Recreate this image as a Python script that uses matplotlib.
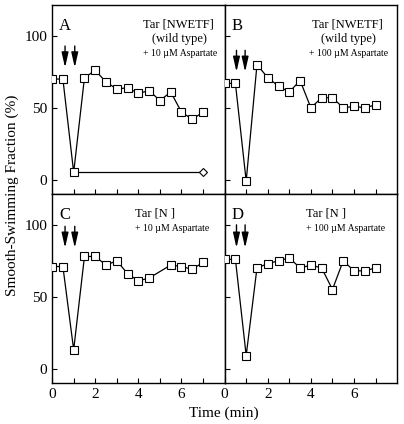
import numpy as np
import matplotlib
matplotlib.use('Agg')
import matplotlib.pyplot as plt

plt.rcParams['font.family'] = ['Liberation Serif', 'DejaVu Serif']

# Dati (tempo in min, frazione in %)
time_a = [0, 0.5, 1, 1.5, 2, 2.5, 3, 3.5, 4, 4.5, 5, 5.5, 6, 6.5, 7]
frac_a = [70, 70, 5, 71, 76, 68, 63, 64, 60, 62, 55, 61, 47, 42, 47]
ctrl_time_a = [1, 7]
ctrl_frac_a = [5, 5]

time_b = [0, 0.5, 1, 1.5, 2, 2.5, 3, 3.5, 4, 4.5, 5, 5.5, 6, 6.5, 7]
frac_b = [67, 67, -1, 80, 71, 65, 61, 69, 50, 57, 57, 50, 51, 50, 52]

time_c = [0, 0.5, 1, 1.5, 2, 2.5, 3, 3.5, 4, 4.5, 5.5, 6, 6.5, 7]
frac_c = [71, 71, 13, 78, 78, 72, 75, 66, 61, 63, 72, 71, 69, 74]

time_d = [0, 0.5, 1, 1.5, 2, 2.5, 3, 3.5, 4, 4.5, 5, 5.5, 6, 6.5, 7]
frac_d = [76, 76, 9, 70, 73, 75, 77, 70, 72, 70, 55, 75, 68, 68, 70]

panel_letters = ['A', 'B', 'C', 'D']
receptors = ['Tar [NWETF]', 'Tar [NWETF]', 'Tar [N ]', 'Tar [N ]']
strains = ['(wild type)', '(wild type)', None, None]
doses = ['+ 10 \u00b5M Aspartate', '+ 100 \u00b5M Aspartate',
         '+ 10 \u00b5M Aspartate', '+ 100 \u00b5M Aspartate']
arrow_x = [[0.6, 1.05], [0.55, 0.95], [0.6, 1.05], [0.55, 0.95]]
arrow_top = [93, 90, 99, 100]
arrow_bot = [78, 75, 84, 84]

fig, axes = plt.subplots(2, 2, figsize=(4.04, 4.24), dpi=100)
plt.subplots_adjust(left=0.129, right=0.983, top=0.988, bottom=0.097,
                    wspace=0, hspace=0)
axs = axes.flatten()

series = [(time_a, frac_a), (time_b, frac_b), (time_c, frac_c), (time_d, frac_d)]

for i, ax in enumerate(axs):
    t, f = series[i]
    ax.plot(t, f, color='black', lw=0.9, marker='s', ms=5.3,
            mfc='white', mec='black', mew=0.8, zorder=3)
    if i == 0:
        ax.plot(ctrl_time_a, ctrl_frac_a, color='black', lw=0.9, zorder=2)
        ax.plot([ctrl_time_a[1]], [ctrl_frac_a[1]], marker='D', ms=4.5,
                mfc='white', mec='black', mew=0.8, zorder=3)
    for xa in arrow_x[i]:
        ax.annotate('', xy=(xa, arrow_bot[i]), xytext=(xa, arrow_top[i]),
                    arrowprops=dict(arrowstyle='-|>,head_length=0.75,head_width=0.17',
                                    color='black', lw=1, mutation_scale=12,
                                    shrinkA=0, shrinkB=0))
    ax.set_xlim(0, 8)
    ax.set_ylim(-10, 121.5)
    ax.set_xticks([0, 2, 4, 6])
    ax.set_xticks([1, 3, 5, 7], minor=True)
    ax.set_yticks([0, 50, 100])
    ax.tick_params(which='both', direction='in', length=3.5, width=0.8,
                   labelsize=11)
    if i in (1, 3):
        ax.tick_params(axis='y', labelleft=False)
    if i in (0, 1):
        ax.tick_params(axis='x', labelbottom=False)
    for sp in ax.spines.values():
        sp.set_linewidth(1)

    ax.text(0.04, 0.93, panel_letters[i], transform=ax.transAxes,
            fontsize=12, va='top', ha='left')
    if strains[i] is not None:
        cx = 0.73 if i == 0 else 0.71
        ax.text(cx, 0.93, receptors[i], transform=ax.transAxes,
                fontsize=9, va='top', ha='center')
        ax.text(cx + 0.01, 0.85, strains[i], transform=ax.transAxes,
                fontsize=9, va='top', ha='center')
        ax.text(cx + 0.01, 0.77, doses[i], transform=ax.transAxes,
                fontsize=7, va='top', ha='center')
    else:
        lx = 0.48 if i == 2 else 0.47
        ax.text(lx, 0.93, receptors[i], transform=ax.transAxes,
                fontsize=9, va='top', ha='left')
        ax.text(lx, 0.84, doses[i], transform=ax.transAxes,
                fontsize=7, va='top', ha='left')

fig.text(0.03, 0.54, 'Smooth-Swimming Fraction (%)', rotation=90,
         fontsize=11, va='center', ha='center')
fig.text(0.555, 0.025, 'Time (min)', fontsize=11, va='center', ha='center')

plt.savefig('out.png', dpi=100)
plt.close()
